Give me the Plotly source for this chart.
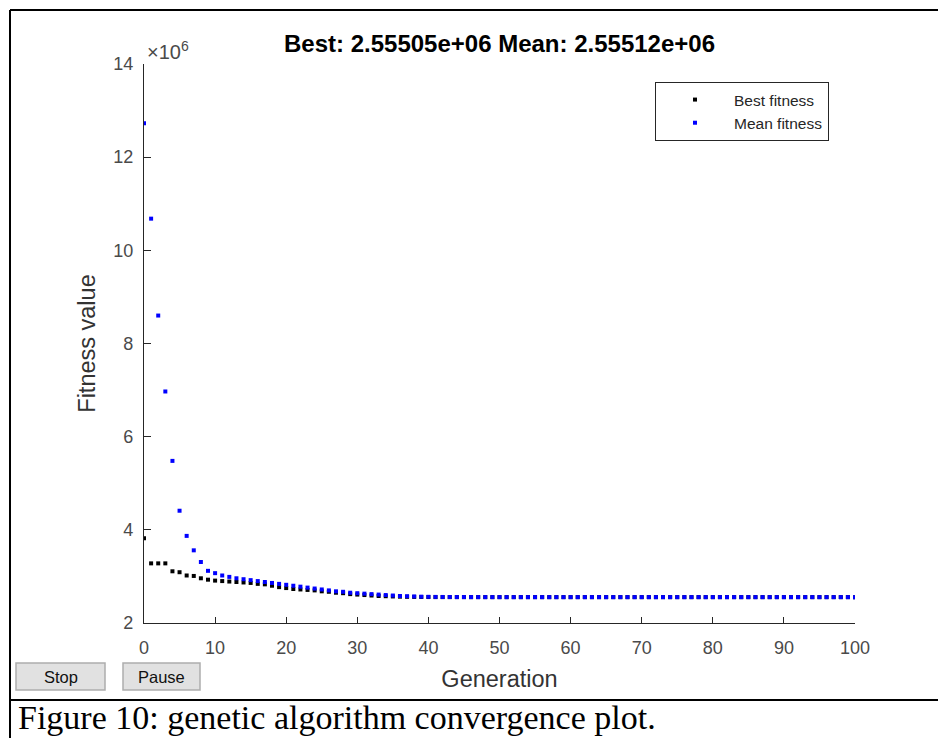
import plotly.graph_objects as go

generations = list(range(0, 101))

# Fitness values in units of 1e6
best_fitness = [
    3.82, 3.28, 3.28, 3.28, 3.11, 3.09, 3.02, 3.01, 2.96, 2.93,
    2.91, 2.90, 2.89, 2.88, 2.87, 2.86, 2.84, 2.83, 2.80, 2.77,
    2.75, 2.73, 2.72, 2.71, 2.70, 2.68, 2.67, 2.65, 2.64, 2.62,
    2.61, 2.60, 2.59, 2.58, 2.575, 2.57, 2.565, 2.562, 2.560, 2.558,
    2.557, 2.556, 2.556, 2.5555, 2.5555, 2.5553, 2.5553, 2.5552, 2.5552, 2.5552,
    2.5551, 2.5551, 2.5551, 2.5551, 2.5551, 2.5551, 2.5551, 2.5551, 2.5551, 2.5551,
    2.5551, 2.5551, 2.5551, 2.5551, 2.5551, 2.5551, 2.5551, 2.5551, 2.5551, 2.5551,
    2.5551, 2.5551, 2.5551, 2.5551, 2.5551, 2.5551, 2.5551, 2.5551, 2.5551, 2.5551,
    2.5551, 2.5551, 2.5551, 2.5551, 2.5551, 2.5551, 2.5551, 2.5551, 2.5551, 2.5551,
    2.5551, 2.5551, 2.5551, 2.5551, 2.5551, 2.5551, 2.5551, 2.5551, 2.5551, 2.5551,
    2.55505,
]

mean_fitness = [
    12.73, 10.68, 8.60, 6.97, 5.48, 4.41, 3.87, 3.56, 3.31, 3.12,
    3.07, 3.02, 2.99, 2.96, 2.94, 2.92, 2.90, 2.88, 2.86, 2.84,
    2.82, 2.80, 2.78, 2.76, 2.74, 2.72, 2.70, 2.68, 2.67, 2.65,
    2.64, 2.63, 2.62, 2.61, 2.60, 2.59, 2.58, 2.575, 2.57, 2.565,
    2.562, 2.560, 2.559, 2.558, 2.557, 2.557, 2.556, 2.556, 2.556, 2.5556,
    2.5555, 2.5554, 2.5554, 2.5553, 2.5553, 2.5553, 2.5552, 2.5552, 2.5552, 2.5552,
    2.5552, 2.5552, 2.5552, 2.5552, 2.5552, 2.5552, 2.5552, 2.5552, 2.5552, 2.5552,
    2.5552, 2.5552, 2.5552, 2.5552, 2.5552, 2.5552, 2.5552, 2.5552, 2.5552, 2.5552,
    2.5552, 2.5552, 2.5552, 2.5552, 2.5552, 2.5552, 2.5552, 2.5552, 2.5552, 2.5552,
    2.5552, 2.5552, 2.5552, 2.5552, 2.5552, 2.5552, 2.5552, 2.5552, 2.5552, 2.5552,
    2.55512,
]

x_ticks = [0, 10, 20, 30, 40, 50, 60, 70, 80, 90, 100]
y_ticks = [2, 4, 6, 8, 10, 12, 14]

title_text = "Best: 2.55505e+06 Mean: 2.55512e+06"
caption_text = "Figure 10: genetic algorithm convergence plot."
button_labels = ["Stop", "Pause"]

SANS = "Liberation Sans, Arial, Helvetica, sans-serif"
SERIF = "Liberation Serif, Times New Roman, serif"
AX = "#262626"
TXT = "#4a4a4a"

# Page is offset by 8px body margin
OFF = 8
FIG_W, FIG_H = 938, 730
L, T = 144 - OFF, 64 - OFF
PW, PH = 711, 559
R = FIG_W - L - PW
B = FIG_H - T - PH


def px_x(px):
    return (px - OFF - L) / PW


def px_y(py):
    return (T + PH - (py - OFF)) / PH


fig = go.Figure()
fig.add_trace(go.Scatter(
    x=generations, y=best_fitness, mode="markers", name="Best fitness",
    marker=dict(symbol="square", size=4, color="black", line=dict(width=0)),
))
fig.add_trace(go.Scatter(
    x=generations, y=mean_fitness, mode="markers", name="Mean fitness",
    marker=dict(symbol="square", size=4, color="#0000ff", line=dict(width=0)),
))

fig.update_layout(
    width=FIG_W, height=FIG_H,
    margin=dict(l=L, r=R, t=T, b=B),
    paper_bgcolor="white", plot_bgcolor="white",
    showlegend=True,
    legend=dict(
        x=px_x(655), y=px_y(82), xanchor="left", yanchor="top",
        bgcolor="white", bordercolor="#262626", borderwidth=1,
        font=dict(family=SANS, size=15.5, color="#262626"),
        itemwidth=68,
        tracegroupgap=0,
    ),
    font=dict(family=SANS),
)

fig.update_xaxes(
    range=[0, 100], tickvals=x_ticks, ticktext=[str(v) for v in x_ticks],
    showgrid=False, zeroline=False, showline=True, linecolor=AX, linewidth=1.3,
    ticks="inside", ticklen=6, tickcolor=AX, tickwidth=1.3, mirror=False,
    ticklabelstandoff=8,
    tickfont=dict(family=SANS, size=18, color=TXT),
    title=dict(text="Generation", font=dict(family=SANS, size=23.5, color="#333333"), standoff=13),
)
fig.update_yaxes(
    range=[2, 14], tickvals=y_ticks, ticktext=[str(v) for v in y_ticks],
    showgrid=False, zeroline=False, showline=True, linecolor=AX, linewidth=1.3,
    ticks="inside", ticklen=7, tickcolor=AX, tickwidth=1.3, mirror=False,
    ticklabelstandoff=6,
    tickfont=dict(family=SANS, size=18, color=TXT),
    title=dict(text="Fitness value", font=dict(family=SANS, size=23.5, color="#333333"), standoff=10),
)

annotations = [
    dict(text="<b>" + title_text + "</b>", xref="paper", yref="paper",
         x=0.5, y=1.0, yshift=21, xanchor="center", yanchor="middle",
         showarrow=False, font=dict(family=SANS, size=24, color="black")),
    dict(text="\u00d710<sup>6</sup>", xref="paper", yref="paper",
         x=px_x(145), y=px_y(50), xanchor="left", yanchor="middle",
         showarrow=False, font=dict(family=SANS, size=20, color=TXT)),
]

shapes = []
for label, x0, x1 in zip(button_labels, [16, 123], [105, 200]):
    shapes.append(dict(type="rect", xref="paper", yref="paper",
                       x0=px_x(x0), x1=px_x(x1), y0=px_y(690), y1=px_y(663),
                       fillcolor="#e1e1e1", line=dict(color="#adadad", width=1.5)))
    annotations.append(dict(text=label, xref="paper", yref="paper",
                            x=(px_x(x0) + px_x(x1)) / 2, y=px_y(677),
                            xanchor="center", yanchor="middle", showarrow=False,
                            font=dict(family=SANS, size=16.5, color="#111111")))

# Outer frame lines
frame = [((10, 10), (946, 10)), ((10, 10), (10, 746)), ((10, 700), (946, 700))]
for (ax0, ay0), (ax1, ay1) in frame:
    shapes.append(dict(type="line", xref="paper", yref="paper",
                       x0=px_x(ax0), x1=px_x(ax1), y0=px_y(ay0), y1=px_y(ay1),
                       line=dict(color="black", width=2)))

annotations.append(dict(text=caption_text, xref="paper", yref="paper",
                        x=px_x(16), y=px_y(718), xanchor="left", yanchor="middle",
                        showarrow=False,
                        font=dict(family=SERIF, size=34, color="black")))

fig.update_layout(shapes=shapes, annotations=annotations)

fig.write_html("out.html")
